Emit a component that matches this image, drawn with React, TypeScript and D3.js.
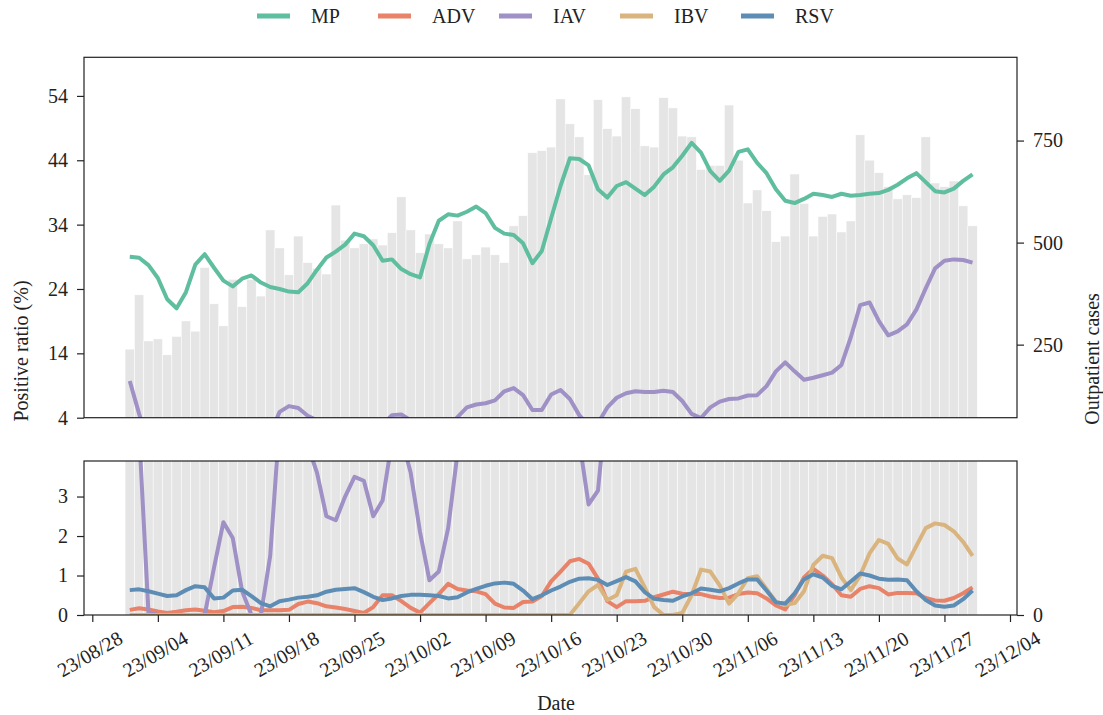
import { useRef, useEffect } from 'react'
import * as d3 from 'd3'

// daily data, 2023-09-01 .. 2023-11-30
const dates = d3.utcDay.range(new Date(Date.UTC(2023, 8, 1)), new Date(Date.UTC(2023, 11, 1)))

const outpatient = [
  239, 372, 259, 264, 225, 270, 308, 283, 439, 350,
  296, 410, 343, 410, 369, 531, 487, 421, 516, 451,
  437, 423, 592, 506, 487, 497, 509, 494, 524, 612,
  531, 475, 521, 497, 487, 553, 460, 470, 489, 470,
  451, 541, 566, 720, 725, 734, 852, 791, 759, 666,
  850, 779, 761, 857, 828, 737, 734, 855, 830, 761,
  759, 679, 689, 689, 837, 702, 597, 629, 578, 502,
  516, 668, 596, 516, 564, 570, 526, 553, 764, 702,
  671, 637, 607, 617, 610, 759, 646, 637, 651, 590,
  541,
]

const mp = [
  29.0, 28.85, 27.7, 25.7, 22.4, 21.0, 23.5, 27.8, 29.4, 27.3,
  25.3, 24.4, 25.6, 26.1, 25.0, 24.3, 24.0, 23.6, 23.5, 24.9,
  27.0, 28.9, 29.8, 30.9, 32.6, 32.2, 30.8, 28.4, 28.6, 27.1,
  26.3, 25.8, 31.0, 34.6, 35.6, 35.4, 36.0, 36.8, 35.8, 33.5,
  32.6, 32.4, 31.1, 28.0, 29.9, 35.0, 40.0, 44.3, 44.2, 43.2,
  39.5, 38.2, 40.0, 40.6, 39.6, 38.6, 39.9, 41.8, 42.9, 44.7,
  46.7, 45.2, 42.3, 40.8, 42.4, 45.3, 45.7, 43.6, 42.0, 39.5,
  37.7, 37.35, 38.0, 38.8, 38.6, 38.3, 38.8, 38.5, 38.6, 38.8,
  38.9, 39.4, 40.2, 41.2, 42.0, 40.6, 39.2, 39.0, 39.6, 40.8,
  41.8,
]

const adv = [
  0.13, 0.17, 0.14, 0.09, 0.05, 0.08, 0.12, 0.14, 0.11, 0.07,
  0.10, 0.20, 0.21, 0.18, 0.12, 0.12, 0.12, 0.13, 0.28, 0.34,
  0.30, 0.22, 0.19, 0.15, 0.10, 0.05, 0.20, 0.50, 0.50, 0.35,
  0.18, 0.06, 0.30, 0.53, 0.79, 0.66, 0.62, 0.60, 0.53, 0.29,
  0.19, 0.18, 0.33, 0.34, 0.48, 0.85, 1.10, 1.36, 1.42, 1.30,
  0.92, 0.35, 0.20, 0.35, 0.35, 0.36, 0.45, 0.52, 0.59, 0.54,
  0.53, 0.53, 0.47, 0.43, 0.44, 0.53, 0.57, 0.55, 0.42, 0.24,
  0.14, 0.50, 0.95, 1.17, 1.00, 0.78, 0.50, 0.46, 0.66, 0.73,
  0.68, 0.52, 0.56, 0.56, 0.55, 0.43, 0.37, 0.36, 0.43, 0.55,
  0.70,
]

const iav = [
  9.7, 4.6, 0.05, 0, 0, 0, 0, 0, 0, 1.2,
  2.35, 1.95, 0.6, 0, 0, 1.5, 4.9, 5.8, 5.5, 4.3,
  3.6, 2.5, 2.4, 3.0, 3.5, 3.4, 2.5, 2.9, 4.4, 4.5,
  3.6, 2.1, 0.88, 1.1, 2.2, 4.1, 5.6, 6.05, 6.25, 6.7,
  8.1, 8.6, 7.5, 5.2, 5.2, 7.6, 8.3, 6.9, 4.4, 2.8,
  3.15, 5.6, 7.1, 7.8, 8.1, 8.0, 8.0, 8.2, 8.0, 6.6,
  4.6, 3.95, 5.6, 6.5, 6.9, 7.0, 7.45, 7.5, 8.9, 11.2,
  12.6, 11.2, 9.9, 10.2, 10.6, 11.0, 12.2, 16.5, 21.5, 21.9,
  19.0, 16.8, 17.4, 18.5, 20.8, 24.1, 27.2, 28.4, 28.6, 28.5,
  28.1,
]

const ibv = [
  0, 0, 0, 0, 0, 0, 0, 0, 0, 0,
  0, 0, 0, 0, 0, 0, 0, 0, 0, 0,
  0, 0, 0, 0, 0, 0, 0, 0, 0, 0,
  0, 0, 0, 0, 0, 0, 0, 0, 0, 0,
  0, 0, 0, 0, 0, 0, 0, 0, 0.3, 0.6,
  0.76, 0.38, 0.5, 1.1, 1.17, 0.7, 0.2, 0, 0, 0.05,
  0.5, 1.15, 1.1, 0.75, 0.29, 0.55, 0.93, 0.98, 0.66, 0.34,
  0.25, 0.3, 0.6, 1.27, 1.5, 1.44, 0.95, 0.63, 1.0, 1.56,
  1.9, 1.8, 1.43, 1.28, 1.75, 2.2, 2.32, 2.28, 2.12, 1.85,
  1.5,
]

const rsv = [
  0.63, 0.65, 0.60, 0.54, 0.48, 0.50, 0.63, 0.73, 0.70, 0.42,
  0.44, 0.62, 0.64, 0.48, 0.30, 0.22, 0.35, 0.39, 0.44, 0.46,
  0.50, 0.59, 0.64, 0.66, 0.68, 0.58, 0.46, 0.38, 0.42, 0.48,
  0.51, 0.51, 0.50, 0.48, 0.42, 0.45, 0.57, 0.66, 0.74, 0.80,
  0.82, 0.79, 0.62, 0.40, 0.50, 0.62, 0.72, 0.84, 0.92, 0.93,
  0.89, 0.76, 0.86, 0.96, 0.85, 0.58, 0.41, 0.38, 0.36, 0.47,
  0.55, 0.67, 0.64, 0.60, 0.68, 0.80, 0.90, 0.90, 0.62, 0.32,
  0.29, 0.55, 0.90, 1.03, 0.95, 0.74, 0.65, 0.85, 1.05, 1.00,
  0.92, 0.89, 0.90, 0.88, 0.60, 0.38, 0.24, 0.21, 0.24, 0.40,
  0.62,
]

const seriesNames = ['MP', 'ADV', 'IAV', 'IBV', 'RSV']
const seriesColors = ['#5fbe9f', '#e8836a', '#9f90c5', '#d9b47e', '#5d8db5']

const leftTicksTop = [4, 14, 24, 34, 44, 54]
const leftTicksBottom = [0, 1, 2, 3]
const rightTicksTop = [250, 500, 750]
const rightTicksBottom = [0]
const xTickLabels = [
  '23/08/28', '23/09/04', '23/09/11', '23/09/18', '23/09/25', '23/10/02', '23/10/09', '23/10/16',
  '23/10/23', '23/10/30', '23/11/06', '23/11/13', '23/11/20', '23/11/27', '23/12/04',
]

const FONT = '"Liberation Serif", "Times New Roman", Times, "DejaVu Serif", serif'

const App = () => {
  const ref = useRef<SVGSVGElement>(null)

  useEffect(() => {
    if (!ref.current) return
    const svg = d3.select(ref.current)
    svg.selectAll('*').remove()
    const ink = '#222'
    const left = 84
    const right = 1017
    const parse = d3.utcParse('%y/%m/%d')
    const fmt = d3.utcFormat('%y/%m/%d')
    const intFmt = d3.format('d')
    const tickDates = xTickLabels.map(s => parse(s) as Date)

    const x = d3
      .scaleUtc()
      .domain([tickDates[0], tickDates[tickDates.length - 1]])
      .range([92.3, 1010])
    const bw = x(dates[1]) - x(dates[0])
    const series = [mp, adv, iav, ibv, rsv]

    const panels = [
      {
        id: 'top', y0: 57.3, y1: 417.7,
        y: d3.scaleLinear().domain([4, 60]).range([417.7, 57.3]),
        yR: d3.scaleLinear().domain([71, 954]).range([417.7, 57.3]),
        ticks: leftTicksTop, rTicks: rightTicksTop,
      },
      {
        id: 'bot', y0: 461, y1: 615,
        y: d3.scaleLinear().domain([0, 3.9]).range([615, 461]),
        yR: d3.scaleLinear().domain([0, 60]).range([615, 461]),
        ticks: leftTicksBottom, rTicks: rightTicksBottom,
      },
    ]

    const defs = svg.append('defs')
    panels.forEach(p => {
      defs
        .append('clipPath')
        .attr('id', `clip-${p.id}`)
        .append('rect')
        .attr('x', left)
        .attr('y', p.y0)
        .attr('width', right - left)
        .attr('height', p.y1 - p.y0)

      const g = svg.append('g').attr('clip-path', `url(#clip-${p.id})`)
      g.selectAll('rect.bar')
        .data(outpatient)
        .join('rect')
        .attr('class', 'bar')
        .attr('x', (_, i) => x(dates[i]) - bw / 2)
        .attr('y', d => p.yR(d))
        .attr('width', bw)
        .attr('height', d => p.y1 - p.yR(d))
        .attr('fill', '#e5e5e5')
        .attr('stroke', '#fff')
        .attr('stroke-width', 0.5)

      series.forEach((vals, k) => {
        const line = d3
          .line<number>()
          .x((_, i) => x(dates[i]))
          .y(d => p.y(d))
        g.append('path')
          .attr('d', line(vals))
          .attr('fill', 'none')
          .attr('stroke', seriesColors[k])
          .attr('stroke-width', 4)
          .attr('stroke-linejoin', 'round')
      })

      svg.append('rect')
        .attr('x', left)
        .attr('y', p.y0)
        .attr('width', right - left)
        .attr('height', p.y1 - p.y0)
        .attr('fill', 'none')
        .attr('stroke', ink)
        .attr('stroke-width', 1.2)

      const axL = svg
        .append('g')
        .attr('transform', `translate(${left},0)`)
        .call(
          d3.axisLeft(p.y).tickValues(p.ticks).tickFormat(d => intFmt(d as number))
            .tickSize(7).tickPadding(9).tickSizeOuter(0)
        )
      const axR = svg
        .append('g')
        .attr('transform', `translate(${right},0)`)
        .call(
          d3.axisRight(p.yR).tickValues(p.rTicks).tickFormat(d => intFmt(d as number))
            .tickSize(7).tickPadding(9).tickSizeOuter(0)
        )
      ;[axL, axR].forEach(ax => {
        ax.select('.domain').remove()
        ax.attr('font-family', null).attr('font-size', null)
        ax.selectAll('line').attr('stroke', ink).attr('stroke-width', 1.2)
        ax.selectAll('text').attr('fill', ink).style('font-family', FONT).style('font-size', '20px')
      })
    })

    const axX = svg
      .append('g')
      .attr('transform', 'translate(0,615)')
      .call(
        d3
          .axisBottom(x)
          .tickValues(tickDates)
          .tickFormat(d => fmt(d as Date))
          .tickSize(7)
          .tickSizeOuter(0)
      )
    axX.select('.domain').remove()
    axX.attr('font-family', null).attr('font-size', null)
    axX.selectAll('line').attr('stroke', ink).attr('stroke-width', 1.2)
    axX.selectAll('text')
      .attr('fill', ink)
      .style('font-family', FONT)
      .style('font-size', '20px')
      .attr('y', 0)
      .attr('dy', '0.35em')
      .attr('text-anchor', 'middle')
      .attr('transform', 'translate(-3,39) rotate(-30)')

    const label = (txt: string, tx: number, ty: number, rot: number) =>
      svg.append('text')
        .attr('transform', `translate(${tx},${ty}) rotate(${rot})`)
        .attr('text-anchor', 'middle')
        .attr('dominant-baseline', 'central')
        .style('font-family', FONT)
        .style('font-size', '20px')
        .attr('fill', ink)
        .text(txt)
    label('Positive ratio (%)', 21, 351, -90)
    label('Outpatient cases', 1092, 359, -90)
    label('Date', 556, 703, 0)

    const legend = svg.append('g').attr('transform', 'translate(257,16)')
    seriesNames.forEach((name, k) => {
      const item = legend.append('g').attr('transform', `translate(${k * 121},0)`)
      item.append('line')
        .attr('x1', 0).attr('x2', 33)
        .attr('stroke', seriesColors[k])
        .attr('stroke-width', 5)
      item.append('text')
        .attr('x', 54)
        .attr('dominant-baseline', 'central')
        .style('font-family', FONT)
        .style('font-size', '20px')
        .attr('fill', ink)
        .text(name)
    })
  }, [])

  return (
    <svg
      ref={ref}
      width={1103}
      height={715}
      style={{ position: 'absolute', left: 0, top: 0, background: '#fff' }}
    />
  )
}

export default App
